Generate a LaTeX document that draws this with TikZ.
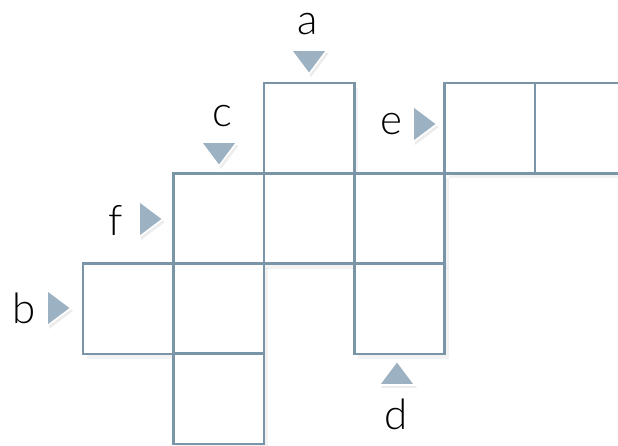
\documentclass[tikz,border=0pt]{standalone}
\usepackage{fontspec}
\setmainfont{Lato}[UprightFont=* Light]
\usetikzlibrary{shapes.geometric,shadows}

\definecolor{gridline}{HTML}{7A94A8}
\definecolor{marker}{HTML}{9CB1C2}

\begin{document}
\begin{tikzpicture}[
    x=1pt, y=-1pt,
    font=\fontsize{42}{48}\selectfont,
    cell/.style={draw=gridline, line width=2.6pt, fill=white, minimum size=90.4pt, inner sep=0pt,
        drop shadow={opacity=0.10, shadow xshift=4pt, shadow yshift=-5pt}},
    pointer/.style={isosceles triangle, isosceles triangle stretches, fill=marker, draw=white,
        line width=1.6pt, inner sep=0pt, minimum width=36pt, minimum height=24pt,
        drop shadow={opacity=0.15, shadow xshift=2pt, shadow yshift=-3pt}},
    letter/.style={inner sep=0pt}
]
\useasboundingbox (0,0) rectangle (618,445);
\clip (0,0) rectangle (618,445);

% cells of the grid, row by row
\foreach \r/\c in {0/2, 0/4, 0/5, 1/1, 1/2, 1/3, 2/0, 2/1, 2/3, 3/1}
    \node[cell] (r\r c\c) at ({128.2+90.4*\c}, {128.2+90.2*\r}) {};

% pointers
\node[pointer, rotate=-90] (pa) at (309,59) {};
\node[pointer, rotate=-90] (pc) at (219,151) {};
\node[pointer] (pf) at (148,219) {};
\node[pointer] (pb) at (56,308) {};
\node[pointer] (pe) at (422,124) {};
\node[pointer, rotate=90] (pd) at (397,376) {};

% labels
\node[letter] (la) at (308,24) {a};
\node[letter] (lc) at (222,116) {c};
\node[letter] (lf) at (116,220) {f};
\node[letter] (lb) at (24,308) {b};
\node[letter] (le) at (391,124) {e};
\node[letter] (ld) at (396,414) {d};

\end{tikzpicture}
\end{document}
